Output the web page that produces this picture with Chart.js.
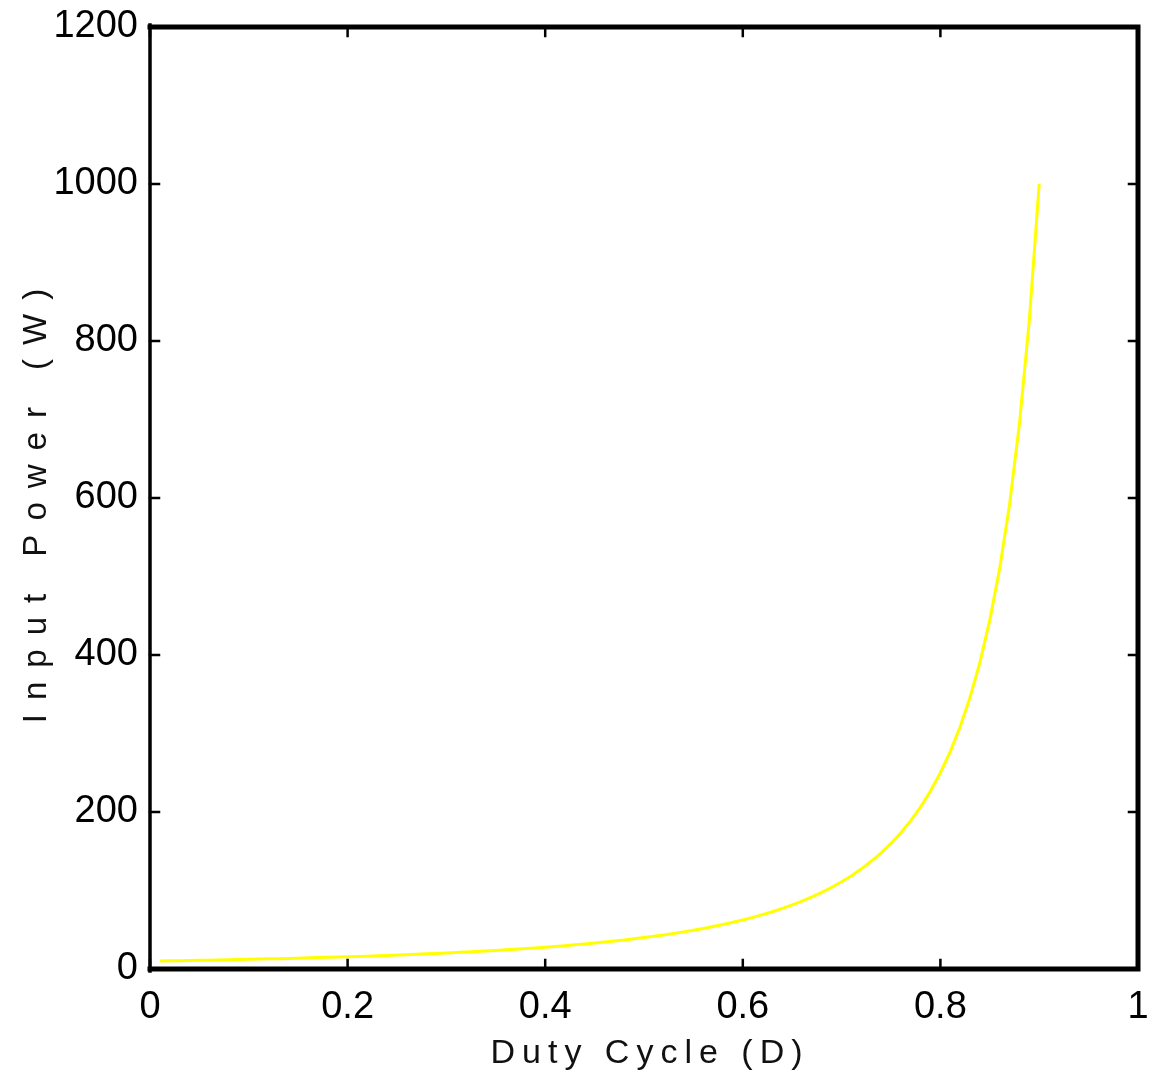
<!DOCTYPE html>
<html lang="en">

<head>
  <meta charset="UTF-8">
  <script src="https://cdn.jsdelivr.net/npm/chart.js"></script>
  <title>Input Power vs Duty Cycle</title>
  <style>
    body {
      margin: 0;
      background: #fff;
    }
  </style>
</head>

<body>
  <canvas id="myChart" width="1151" height="1083"></canvas>

  <script>
    // duty cycle samples and the input power
    const duty = [
      0.01, 0.02, 0.03, 0.04, 0.05, 0.06, 0.07, 0.08, 0.09, 0.10,
      0.11, 0.12, 0.13, 0.14, 0.15, 0.16, 0.17, 0.18, 0.19, 0.20,
      0.21, 0.22, 0.23, 0.24, 0.25, 0.26, 0.27, 0.28, 0.29, 0.30,
      0.31, 0.32, 0.33, 0.34, 0.35, 0.36, 0.37, 0.38, 0.39, 0.40,
      0.41, 0.42, 0.43, 0.44, 0.45, 0.46, 0.47, 0.48, 0.49, 0.50,
      0.51, 0.52, 0.53, 0.54, 0.55, 0.56, 0.57, 0.58, 0.59, 0.60,
      0.61, 0.62, 0.63, 0.64, 0.65, 0.66, 0.67, 0.68, 0.69, 0.70,
      0.71, 0.72, 0.73, 0.74, 0.75, 0.76, 0.77, 0.78, 0.79, 0.80,
      0.81, 0.82, 0.83, 0.84, 0.85, 0.86, 0.87, 0.88, 0.89, 0.90
    ];
    const power = [
      10.2, 10.4, 10.6, 10.9, 11.1, 11.3, 11.6, 11.8, 12.1, 12.3,
      12.6, 12.9, 13.2, 13.5, 13.8, 14.2, 14.5, 14.9, 15.2, 15.6,
      16.0, 16.4, 16.9, 17.3, 17.8, 18.3, 18.8, 19.3, 19.8, 20.4,
      21.0, 21.6, 22.3, 23.0, 23.7, 24.4, 25.2, 26.0, 26.9, 27.8,
      28.7, 29.7, 30.8, 31.9, 33.1, 34.3, 35.6, 37.0, 38.4, 40.0,
      41.6, 43.4, 45.3, 47.3, 49.4, 51.7, 54.1, 56.7, 59.5, 62.5,
      65.7, 69.3, 73.0, 77.2, 81.6, 86.5, 91.8, 97.7, 104.1, 111.1,
      118.9, 127.6, 137.2, 147.9, 160.0, 173.6, 189.0, 206.6, 226.8, 250.0,
      277.0, 308.6, 346.0, 390.6, 444.4, 510.2, 591.7, 694.4, 826.4, 1000.0
    ];
    const xTicks = [0, 0.2, 0.4, 0.6, 0.8, 1];
    const yTicks = [0, 200, 400, 600, 800, 1000, 1200];
    const xTitle = 'Duty Cycle (D)';
    const yTitle = 'Input Power (W)';

    const FONT = '"Liberation Sans", Arial, sans-serif';

    // matlab style box with inward ticks, and spaced axis titles
    const framePlugin = {
      id: 'frame',
      afterDraw(chart) {
        const { ctx, chartArea: a, scales: { x, y } } = chart;
        ctx.save();
        ctx.strokeStyle = '#000';
        ctx.lineCap = 'square';

        ctx.lineWidth = 2.5;
        ctx.beginPath();
        xTicks.forEach(v => {
          const px = x.getPixelForValue(v);
          ctx.moveTo(px, a.bottom);
          ctx.lineTo(px, a.bottom - 9);
          ctx.moveTo(px, a.top);
          ctx.lineTo(px, a.top + 9);
        });
        yTicks.forEach(v => {
          const py = y.getPixelForValue(v);
          ctx.moveTo(a.left, py);
          ctx.lineTo(a.left + 9, py);
          ctx.moveTo(a.right, py);
          ctx.lineTo(a.right - 9, py);
        });
        ctx.stroke();

        ctx.lineWidth = 5;
        ctx.beginPath();
        ctx.moveTo(a.left, a.top);
        ctx.lineTo(a.right, a.top);
        ctx.lineTo(a.right, a.bottom);
        ctx.lineTo(a.left, a.bottom);
        ctx.stroke();
        ctx.lineWidth = 3.5;
        ctx.beginPath();
        ctx.moveTo(a.left, a.top - 2);
        ctx.lineTo(a.left, a.bottom + 2);
        ctx.stroke();

        ctx.fillStyle = '#111';
        ctx.textAlign = 'center';
        ctx.textBaseline = 'alphabetic';
        ctx.font = '34px ' + FONT;
        ctx.letterSpacing = '7px';
        ctx.fillText(xTitle, 650, 1063);

        ctx.font = '33px ' + FONT;
        ctx.letterSpacing = '14px';
        ctx.translate(46, 506);
        ctx.rotate(-Math.PI / 2);
        ctx.fillText(yTitle, 7, 0);
        ctx.restore();
      }
    };

    const ctx = document.getElementById('myChart').getContext('2d');
    const myChart = new Chart(ctx, {
      type: 'line',
      data: {
        datasets: [{
          data: duty.map((d, i) => ({ x: d, y: power[i] })),
          borderColor: '#ffff00',
          borderWidth: 3,
          pointRadius: 0,
          fill: false,
          tension: 0
        }]
      },
      options: {
        responsive: false,
        animation: false,
        layout: {
          padding: { top: 27, right: 13, left: 0, bottom: 0 }
        },
        plugins: {
          legend: { display: false },
          tooltip: { enabled: false }
        },
        scales: {
          x: {
            type: 'linear',
            min: 0,
            max: 1,
            afterBuildTicks: s => { s.ticks = xTicks.map(v => ({ value: v })); },
            afterFit: s => { s.height = 114; s.paddingLeft = 0; s.paddingRight = 0; },
            grid: { display: false, drawTicks: false },
            border: { display: false },
            ticks: {
              padding: 16,
              color: '#000',
              font: { family: FONT, size: 38 },
              callback: v => String(v)
            }
          },
          y: {
            min: 0,
            max: 1200,
            afterBuildTicks: s => { s.ticks = yTicks.map(v => ({ value: v })); },
            afterFit: s => { s.width = 150; s.paddingTop = 0; s.paddingBottom = 0; },
            grid: { display: false, drawTicks: false },
            border: { display: false },
            ticks: {
              padding: 12,
              color: '#000',
              font: { family: FONT, size: 38 },
              callback: v => String(v)
            }
          }
        }
      },
      plugins: [framePlugin]
    });
  </script>
</body>

</html>
